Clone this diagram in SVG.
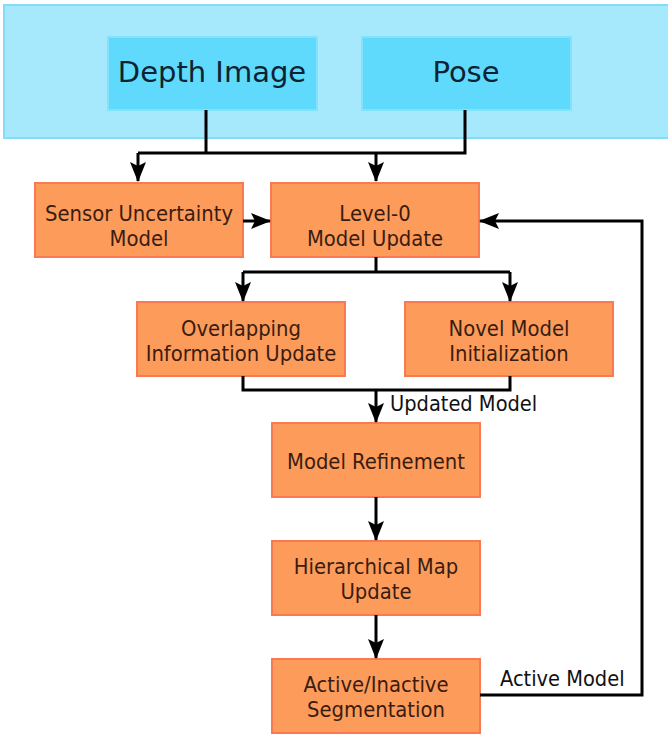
<svg xmlns="http://www.w3.org/2000/svg" width="668" height="734" viewBox="0 0 668 734">
<style>
.band{fill:#a6e8fc;stroke:#86dcf8;stroke-width:2}
.blue{fill:#5fdafc;stroke:#82e2fb;stroke-width:2}
.org{fill:#fd9b5b;stroke:#f97a52;stroke-width:2}
.t{font-family:"DejaVu Sans Condensed","DejaVu Sans",sans-serif;font-stretch:condensed;font-size:21.8px;fill:#3a1d10;text-anchor:middle}
.tb{font-family:"DejaVu Sans",Verdana,sans-serif;font-size:29px;fill:#0d2233;text-anchor:middle}
.lab{font-family:"DejaVu Sans Condensed","DejaVu Sans",sans-serif;font-stretch:condensed;font-size:21.6px;fill:#111}
.c{fill:none;stroke:#000;stroke-width:3}
</style>
<defs>
<marker id="ah" viewBox="0 0 20 20" refX="19" refY="10" markerWidth="20" markerHeight="20" markerUnits="userSpaceOnUse" orient="auto">
<path d="M0,2 L20,10 L0,18 L4,10 Z" fill="#000"/>
</marker>
</defs>
<rect width="668" height="734" fill="#fff"/>
<g id="input-band"><rect class="band" x="4" y="5" width="680" height="133"/></g>
<g id="depth-image"><rect class="blue" x="108" y="37" width="209" height="73"/><text class="tb" x="212" y="82">Depth Image</text></g>
<g id="pose"><rect class="blue" x="362" y="37" width="209" height="73"/><text class="tb" x="466" y="82">Pose</text></g>
<g id="sensor-uncertainty"><rect class="org" x="35" y="183" width="208" height="74"/><text class="t" x="139" y="221">Sensor Uncertainty</text><text class="t" x="139" y="246">Model</text></g>
<g id="level0"><rect class="org" x="271" y="183" width="208" height="74"/><text class="t" x="375" y="221">Level-0</text><text class="t" x="375" y="246">Model Update</text></g>
<g id="overlapping"><rect class="org" x="137" y="302" width="208" height="74"/><text class="t" x="241" y="336">Overlapping</text><text class="t" x="241" y="361">Information Update</text></g>
<g id="novel"><rect class="org" x="405" y="302" width="208" height="74"/><text class="t" x="509" y="336">Novel Model</text><text class="t" x="509" y="361">Initialization</text></g>
<g id="refinement"><rect class="org" x="272" y="423" width="208" height="74"/><text class="t" x="376" y="469">Model Refinement</text></g>
<g id="hierarchical"><rect class="org" x="272" y="541" width="208" height="74"/><text class="t" x="376" y="574">Hierarchical Map</text><text class="t" x="376" y="599">Update</text></g>
<g id="segmentation"><rect class="org" x="272" y="659" width="208" height="74"/><text class="t" x="376" y="692">Active/Inactive</text><text class="t" x="376" y="717">Segmentation</text></g>
<g id="connectors">
<path class="c" d="M206,110 V153 M465,110 V153 H138"/>
<path class="c" d="M138,153 V181" marker-end="url(#ah)"/>
<path class="c" d="M376,153 V181" marker-end="url(#ah)"/>
<path class="c" d="M243,221 H270" marker-end="url(#ah)"/>
<path class="c" d="M376,257 V272 M243,272 H510"/>
<path class="c" d="M243,272 V301" marker-end="url(#ah)"/>
<path class="c" d="M510,272 V301" marker-end="url(#ah)"/>
<path class="c" d="M243,376 V390 H510 V376"/>
<path class="c" d="M376,390 V422" marker-end="url(#ah)"/>
<path class="c" d="M376,497 V540" marker-end="url(#ah)"/>
<path class="c" d="M376,615 V658" marker-end="url(#ah)"/>
<path class="c" d="M480,695 H642 V221 H480" marker-end="url(#ah)"/>
<text class="lab" x="390" y="411">Updated Model</text>
<text class="lab" x="500" y="686">Active Model</text>
</g>
</svg>
